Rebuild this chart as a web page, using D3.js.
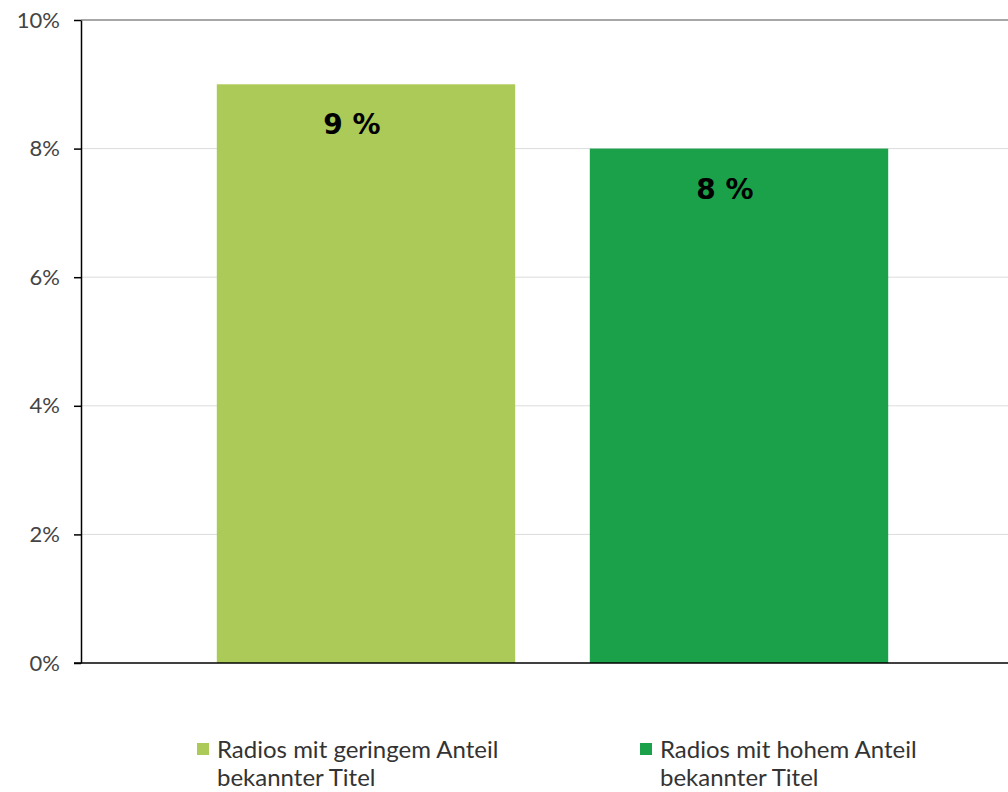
<!DOCTYPE html>
<html>
<head>
  <script src="https://d3js.org/d3.v7.min.js"></script>
  <style>
    body { margin: 0; background: #fff; }
    text { font-family: Lato, "Open Sans", sans-serif; }
  </style>
</head>
<body>
  <script>
    // Data
    const categories = ["Radios mit geringem Anteil bekannter Titel", "Radios mit hohem Anteil bekannter Titel"];
    const legendLines = [["Radios mit geringem Anteil", "bekannter Titel"], ["Radios mit hohem Anteil", "bekannter Titel"]];
    const values = [9, 8];
    const valueLabels = ["9 %", "8 %"];
    const yTicks = [0, 2, 4, 6, 8, 10];
    const colors = ["#acca58", "#1ba149"];

    const W = 1008, H = 792;
    const margin = {top: 20, left: 81, bottom: 129};

    const svg = d3.select("body").append("svg")
      .attr("width", W)
      .attr("height", H);

    const x = d3.scaleBand()
      .domain(categories)
      .range([179.5, 925.5])
      .paddingInner(0.2)
      .paddingOuter(0.1);

    const y = d3.scaleLinear()
      .domain([0, 10])
      .range([H - margin.bottom, margin.top]);

    // Gridlines
    svg.append("g")
      .selectAll("line")
      .data(yTicks.filter(d => d > 0 && d < 10))
      .join("line")
        .attr("x1", margin.left).attr("x2", W)
        .attr("y1", d => y(d)).attr("y2", d => y(d))
        .attr("stroke", "#dcdcdc")
        .attr("stroke-width", 1);

    // Top border
    svg.append("line")
      .attr("x1", margin.left).attr("x2", W)
      .attr("y1", y(10)).attr("y2", y(10))
      .attr("stroke", "#8a8a8a")
      .attr("stroke-width", 1.5);

    // Bars
    svg.append("g")
      .selectAll("rect")
      .data(categories)
      .join("rect")
        .attr("x", d => x(d))
        .attr("y", (d, i) => y(values[i]))
        .attr("width", x.bandwidth())
        .attr("height", (d, i) => y(0) - y(values[i]))
        .attr("fill", (d, i) => colors[i]);

    // Value labels
    svg.append("g")
      .selectAll("text")
      .data(categories)
      .join("text")
        .attr("x", d => x(d) + x.bandwidth() / 2 - 14)
        .attr("y", (d, i) => y(values[i]) + 50)
        .attr("text-anchor", "middle")
        .style("font-family", "'DejaVu Sans', Verdana, sans-serif")
        .style("font-weight", "bold")
        .style("font-size", "28px")
        .attr("fill", "#000")
        .text((d, i) => valueLabels[i]);

    // Y axis
    const yAxis = svg.append("g")
      .attr("transform", `translate(${margin.left},0)`)
      .call(d3.axisLeft(y).tickValues(yTicks).tickFormat(d => d + "%").tickSizeInner(7).tickSizeOuter(0));
    yAxis.select(".domain").attr("stroke", "#000").attr("stroke-width", 1.5);
    yAxis.selectAll(".tick line").attr("stroke", "#000").attr("stroke-width", 1.5);
    yAxis.selectAll(".tick text")
      .attr("x", -21)
      .style("font-size", "22px")
      .style("font-family", "Lato, sans-serif")
      .attr("fill", "#444");

    // X axis baseline
    svg.append("line")
      .attr("x1", margin.left - 7).attr("x2", W)
      .attr("y1", y(0)).attr("y2", y(0))
      .attr("stroke", "#000")
      .attr("stroke-width", 1.5);

    // Legend
    const legendX = [197, 640];
    const legend = svg.append("g");
    categories.forEach((c, i) => {
      const g = legend.append("g").attr("transform", `translate(${legendX[i]},743)`);
      g.append("rect")
        .attr("width", 12).attr("height", 12)
        .attr("fill", colors[i]);
      g.append("text")
        .attr("x", 20)
        .attr("y", 15)
        .style("font-size", "24px")
        .attr("fill", "#333")
        .selectAll("tspan")
        .data(legendLines[i])
        .join("tspan")
          .attr("x", 20)
          .attr("dy", (d, j) => j === 0 ? 0 : 28)
          .text(d => d);
    });
  </script>
</body>
</html>
